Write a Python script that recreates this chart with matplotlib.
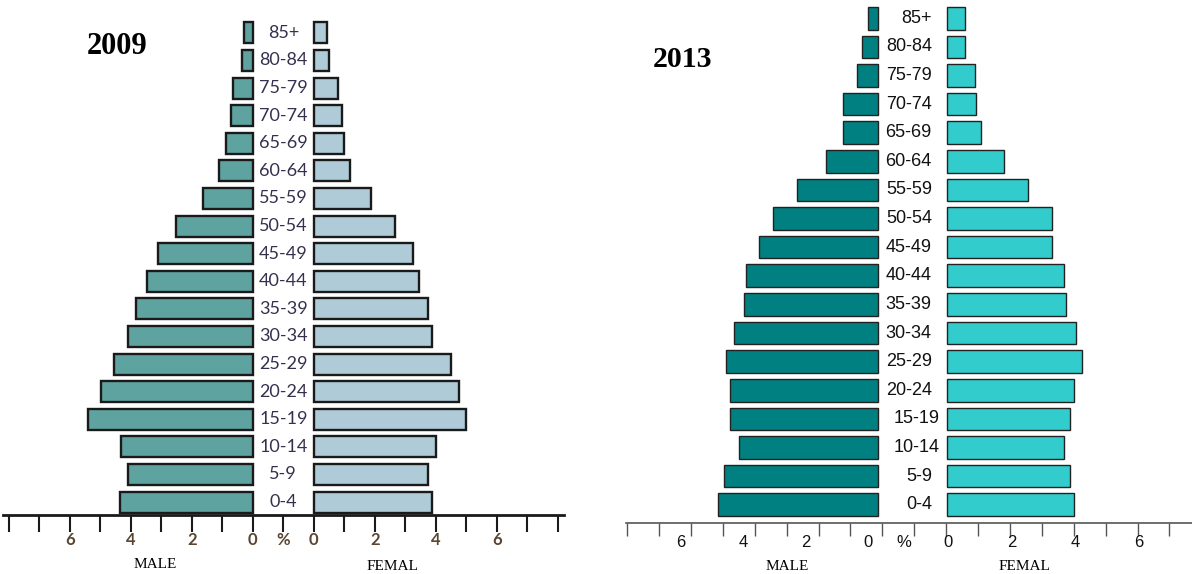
import matplotlib
matplotlib.use('Agg')
import matplotlib.pyplot as plt
import numpy as np

# age groups, bottom to top
ages = ['0-4', '5-9', '10-14', '15-19', '20-24', '25-29', '30-34', '35-39', '40-44',
        '45-49', '50-54', '55-59', '60-64', '65-69', '70-74', '75-79', '80-84', '85+']

# % of population
male_2009 = [4.34, 4.08, 4.31, 5.40, 4.97, 4.55, 4.08, 3.83, 3.47,
             3.11, 2.51, 1.62, 1.11, 0.88, 0.70, 0.64, 0.35, 0.29]
female_2009 = [3.86, 3.73, 4.02, 4.99, 4.75, 4.51, 3.86, 3.73, 3.44,
               3.26, 2.67, 1.88, 1.20, 0.98, 0.91, 0.79, 0.49, 0.43]

male_2013 = [5.02, 4.83, 4.38, 4.64, 4.64, 4.76, 4.51, 4.20, 4.13,
             3.75, 3.31, 2.54, 1.65, 1.10, 1.10, 0.66, 0.52, 0.33]
female_2013 = [3.99, 3.87, 3.68, 3.87, 3.99, 4.25, 4.05, 3.74, 3.67,
               3.29, 3.29, 2.53, 1.78, 1.08, 0.91, 0.89, 0.57, 0.57]

tick_values = [0, 2, 4, 6]

W, H = 1192, 574
fig = plt.figure(figsize=(W / 100, H / 100), dpi=100)
y = np.arange(len(ages))


def px_axes(x0, y0, x1, y1):
    # pixel box (top-left origin) -> figure axes
    return fig.add_axes([x0 / W, 1 - y1 / H, (x1 - x0) / W, (y1 - y0) / H])


def clean(ax):
    for s in ['top', 'left', 'right']:
        ax.spines[s].set_visible(False)
    ax.set_yticks([])
    # labels sit on minor ticks, some at the same spot as the tick marks
    ax.xaxis.remove_overlapping_locs = False


lab_txt = [str(v) for v in tick_values] + ['%'] + [str(v) for v in tick_values]

# ---------- 2009 ----------
ax1 = px_axes(2.7, 0, 563.9, 515)
ax1.set_xlim(-9.2, 9.2)
ax1.set_ylim(-0.47, 18.19)
clean(ax1)
ax1.barh(y, -np.array(male_2009), left=-1, height=0.76, color='#5fa3a0',
         edgecolor='#1a1a1a', linewidth=1.7)
ax1.barh(y, female_2009, left=1, height=0.76, color='#aecbd7',
         edgecolor='#1a1a1a', linewidth=1.7)
for i, a in enumerate(ages):
    ax1.text(0, i, a, ha='center', va='center', fontsize=13,
             family='Lato', color='#36304f')
marks = [-1 - k for k in range(9)] + [0] + [1 + k for k in range(9)]
ax1.set_xticks(marks)
ax1.set_xticklabels([])
ax1.tick_params(axis='x', which='major', length=12, width=1.5, direction='out', color='#1a1a1a')
lab_pos = [-1 - v for v in tick_values] + [0] + [1 + v for v in tick_values]
ax1.set_xticks(lab_pos, minor=True)
ax1.set_xticklabels(lab_txt, minor=True, fontsize=12, family='Lato',
                    fontweight='bold', color='#5a4632')
ax1.tick_params(axis='x', which='minor', length=0, pad=12)
ax1.spines['bottom'].set_linewidth(2)
ax1.spines['bottom'].set_color('#1a1a1a')

fig.text(117 / W, 1 - 46 / H, '2009', ha='center', va='center', fontsize=22,
         fontweight='bold', family='Liberation Serif')
fig.text(155 / W, 1 - 565 / H, 'MALE', ha='center', va='center', fontsize=11,
         family='Liberation Serif')
fig.text(392 / W, 1 - 567 / H, 'FEMAL', ha='center', va='center', fontsize=11,
         family='Liberation Serif')

# ---------- 2013 ----------
ax2 = px_axes(625.9, 0, 1191.8, 522.7)
ax2.set_xlim(-9.04, 8.7)
ax2.set_ylim(-0.63, 17.64)
clean(ax2)
ax2.barh(y, -np.array(male_2013), left=-1.13, height=0.79, color='#008080',
         edgecolor='#222222', linewidth=1.0)
ax2.barh(y, female_2013, left=1.02, height=0.79, color='#33cccc',
         edgecolor='#222222', linewidth=1.0)
shift = {'15-19': 0.25, '10-14': 0.25}
for i, a in enumerate(ages):
    ax2.text(0.55 + shift.get(a, 0), i, a, ha='right', va='center', fontsize=13,
             family='Liberation Sans', color='#111111')
ax2.set_xticks([-1 - k for k in range(9)] + [0] + [1 + k for k in range(8)])
ax2.set_xticklabels([])
ax2.tick_params(axis='x', which='major', length=9, width=1.0, direction='out', color='#555555')
lab_pos2 = [-1.44 - 0.98 * v for v in tick_values] + [-0.34] + [1.05 + v for v in tick_values]
ax2.set_xticks(lab_pos2, minor=True)
ax2.set_xticklabels(lab_txt, minor=True, fontsize=12, family='Liberation Sans',
                    color='#111111')
ax2.tick_params(axis='x', which='minor', length=0, pad=9)
ax2.spines['bottom'].set_linewidth(1.2)
ax2.spines['bottom'].set_color('#555555')

fig.text(682 / W, 1 - 59.5 / H, '2013', ha='center', va='center', fontsize=21.5,
         fontweight='bold', family='Liberation Serif')
fig.text(787 / W, 1 - 567 / H, 'MALE', ha='center', va='center', fontsize=11,
         family='Liberation Serif')
fig.text(1024 / W, 1 - 566 / H, 'FEMAL', ha='center', va='center', fontsize=11,
         family='Liberation Serif')

plt.savefig('out.png', dpi=100)
